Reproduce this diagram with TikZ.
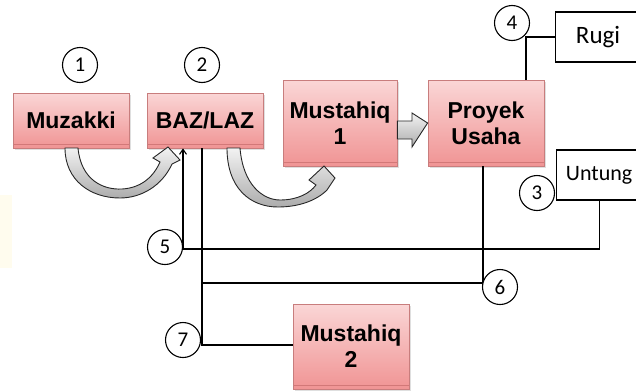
\documentclass[tikz,border=0pt]{standalone}
\usepackage{fontspec}
\setmainfont{Liberation Sans}
\newfontfamily\calib{Carlito}
\usetikzlibrary{arrows.meta,shadows,calc}
\definecolor{pinktop}{RGB}{250,214,214}
\definecolor{pinkbot}{RGB}{240,148,148}
\definecolor{pinkline}{RGB}{200,125,125}
\definecolor{pinkdark}{RGB}{210,120,120}
\definecolor{faintyel}{RGB}{255,252,238}
\begin{document}
\begin{tikzpicture}[x=1pt,y=-1pt,
  pinkbox/.style={draw=pinkline, line width=0.8pt, top color=pinktop, bottom color=pinkbot,
    minimum width=116pt, inner sep=0pt, align=center,
    font=\bfseries\fontsize{23}{26}\selectfont,
    drop shadow={opacity=0.25, shadow xshift=1.5pt, shadow yshift=-1.5pt},
    path picture={\draw[pinkdark, line width=0.6pt]
      ([yshift=4pt]path picture bounding box.south west) -- ([yshift=4pt]path picture bounding box.south east);}},
  whitebox/.style={draw=black, line width=1.1pt, fill=white, minimum width=85pt,
    minimum height=50pt, inner sep=0pt, anchor=west},
  numcirc/.style={circle, draw=black, line width=1.1pt, fill=white, minimum size=35pt,
    inner sep=0pt, font=\calib\fontsize{21}{21}\selectfont},
  conn/.style={draw=black, line width=1.1pt},
  blockarrow/.style={draw=black!85, line width=0.9pt, top color=gray!10, bottom color=gray!65}
]
\useasboundingbox (0,0) rectangle (636,391);
\clip (0,0) rectangle (636,391);
\fill[faintyel] (0,195) rectangle (12,268);

% boxes
\node[pinkbox, minimum height=55pt] (muz) at (71,120.5) {Muzakki};
\node[pinkbox, minimum height=55pt] (baz) at (205,120.5) {BAZ/LAZ};
\node[pinkbox, minimum width=114pt, minimum height=86pt] (m1) at (340,123) {Mustahiq\\1};
\node[pinkbox, minimum height=86pt] (pro) at (486,123) {Proyek\\Usaha};
\node[pinkbox, minimum height=85pt] (m2) at (351,346.5) {Mustahiq\\2};
\node[whitebox, font=\calib\fontsize{25}{25}\selectfont] (rugi) at (555,37) {Rugi};
\node[whitebox, font=\calib\fontsize{22}{22}\selectfont] (untung) at (556,175) {Untung};

% curved block arrows
\path[blockarrow]
  (78,148) .. controls (81,180) and (103,190) .. (122,189)
  .. controls (140,188) and (153,178) .. (160,162)
  -- (153,158) -- (168,147) -- (180,160) -- (172,164)
  .. controls (162,186) and (141,198) .. (120,198)
  .. controls (90,198) and (65,180) .. (65,148) -- cycle;
\path[blockarrow]
  (240,148) .. controls (243,185) and (263,200) .. (280,200)
  .. controls (298,200) and (310,193) .. (316,185)
  -- (309,180) -- (324,166) -- (335,178) -- (327,190)
  .. controls (316,201) and (298,207) .. (278,207)
  .. controls (250,207) and (227,188) .. (227,148) -- cycle;
% straight block arrow
\path[blockarrow] (m1.east |- 0,121) -- (412,121) -- (412,113) -- (pro.west) -- (412,147)
  -- (412,139) -- (m1.east |- 0,139) -- cycle;

% connectors
\coordinate (k4) at (526,37);
\coordinate (k5) at (183,249);
\coordinate (k6) at (483,283);
\coordinate (k6b) at (202,283);
\coordinate (k7) at (202,345);
\draw[conn] (pro.north -| k4) -- (k4) -- (rugi.west);
\draw[conn, -{Straight Barb[length=5pt,width=7pt]}] (untung.south) |- (k5) -- (baz.south -| k5);
\draw[conn] (pro.south -| k6) -- (k6) -- (k6b);
\draw[conn] (baz.south -| k7) -- (k7) -- (m2.west |- k7);

% number circles
\node[numcirc] (c1) at (80,65) {1};
\node[numcirc] (c2) at (202,65) {2};
\node[numcirc] (c4) at (512,23) {4};
\node[numcirc] (c3) at (537,193) {3};
\node[numcirc] (c5) at (165,247) {5};
\node[numcirc] (c6) at (500,287) {6};
\node[numcirc] (c7) at (183,340) {7};
\end{tikzpicture}
\end{document}
